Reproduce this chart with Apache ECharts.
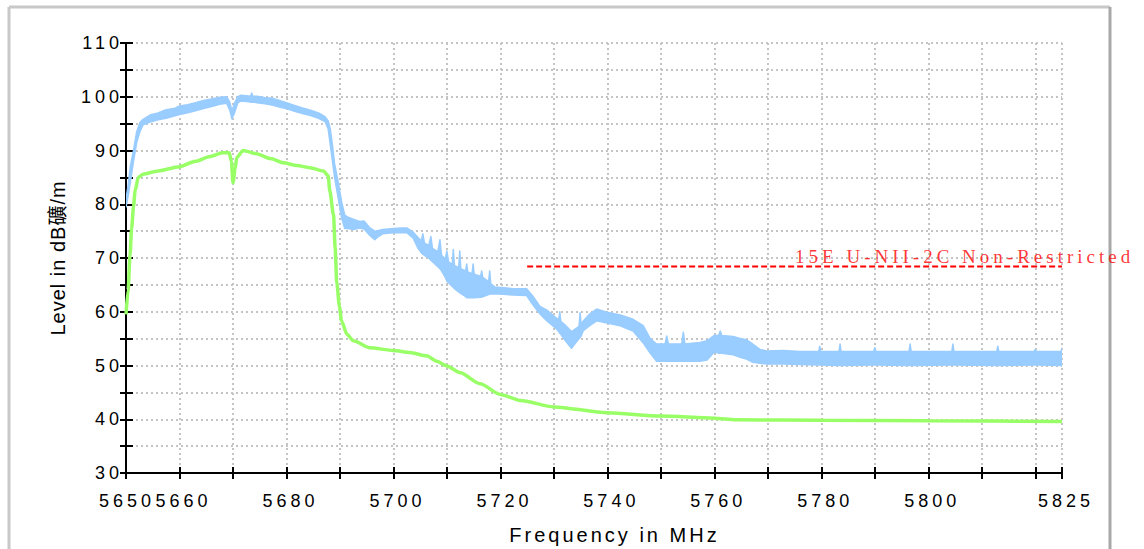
<!DOCTYPE html>
<html><head><meta charset="utf-8">
<script src="https://cdn.jsdelivr.net/npm/echarts@6/dist/echarts.min.js"></script>
<style>
html,body{margin:0;padding:0;background:#fff;}
#c{width:1144px;height:549px;}
#c text[style*="18px"]{letter-spacing:4px;}
#c text[style*="20px"]{letter-spacing:3px;}
#c text[style*="CJK"]{letter-spacing:1px;}
#c text[style*="Serif"]{letter-spacing:4px;}
</style></head>
<body><div id="c"></div>
<script>
// ---- data ----
const xTickLabels = [5650, 5660, 5680, 5700, 5720, 5740, 5760, 5780, 5800, 5825];
const yTickLabels = [30, 40, 50, 60, 70, 80, 90, 100, 110];
const xName = 'Frequency in MHz';
const yName = 'Level in dB礦/m';

// blue trace (noisy band: lower / upper envelope)
const blueFreq = [5650.0,5650.4,5650.8,5651.4,5652.0,5652.6,5653.2,5654.5,5656.0,5657.5,5659.0,5660.0,5661.5,5663.0,5664.5,5666.0,5667.5,5668.8,5669.4,5669.8,5670.3,5670.9,5671.5,5672.5,5673.3,5673.5,5673.7,5674.5,5676.0,5677.5,5679.0,5680.0,5681.5,5683.0,5684.5,5686.0,5687.2,5687.8,5688.2,5688.6,5689.0,5689.7,5690.3,5690.9,5691.5,5692.5,5693.7,5694.5,5695.6,5696.5,5697.2,5698.0,5700.0,5701.5,5702.5,5703.7,5704.6,5705.2,5705.5,5705.8,5706.6,5707.0,5707.3,5708.3,5708.7,5709.0,5709.7,5710.0,5710.3,5711.0,5711.2,5711.4,5712.2,5712.4,5712.6,5713.5,5713.7,5713.9,5714.7,5714.9,5715.1,5716.3,5716.5,5716.7,5717.8,5718.0,5718.2,5719.0,5720.0,5722.4,5724.9,5726.0,5727.4,5728.7,5730.5,5730.9,5731.1,5731.3,5732.0,5733.3,5734.3,5734.7,5734.9,5735.1,5735.5,5736.7,5738.0,5739.9,5742.4,5744.8,5746.7,5748.0,5749.2,5750.8,5751.1,5751.4,5753.9,5754.2,5754.5,5757.3,5758.6,5760.0,5760.8,5761.1,5761.4,5763.5,5765.0,5766.0,5767.2,5768.5,5769.8,5772.9,5776.0,5779.5,5779.7,5779.9,5783.3,5783.5,5783.7,5789.8,5790.0,5790.2,5796.4,5796.6,5796.8,5804.4,5804.6,5804.8,5812.8,5813.0,5813.2,5819.8,5820.0,5820.2,5824.8,5825.0];
const blueLow = [79.5,81.5,84.0,88.0,91.5,93.5,94.8,95.3,95.7,96.0,96.4,96.7,97.0,97.4,97.8,98.2,98.6,98.8,97.5,95.9,97.0,98.9,99.2,99.1,99.0,99.0,99.0,98.9,98.7,98.4,98.0,97.8,97.3,96.9,96.5,96.0,95.4,94.0,91.0,88.0,85.0,81.0,77.5,75.5,75.5,75.3,75.6,75.4,74.2,73.4,74.0,74.5,74.7,74.7,74.7,73.7,71.8,71.0,70.7,70.5,70.0,69.6,69.3,68.4,68.0,67.6,66.4,65.7,65.4,64.7,64.5,64.3,63.7,63.5,63.4,62.8,62.6,62.6,62.6,62.6,62.6,62.7,62.7,62.8,63.2,63.3,63.3,63.3,63.3,63.1,63.0,61.4,59.6,58.3,56.8,56.3,56.0,55.8,54.8,53.2,54.5,55.0,55.2,55.5,56.5,57.4,58.3,57.9,57.4,56.4,54.2,52.3,50.8,50.8,50.8,50.8,50.8,50.8,50.8,50.8,51.0,52.5,52.3,52.3,52.3,52.0,51.5,51.2,50.6,50.4,50.3,50.3,50.2,50.1,50.1,50.1,50.0,50.0,50.0,50.1,50.1,50.1,50.0,50.0,50.0,50.1,50.1,50.1,50.0,50.0,50.0,50.1,50.1,50.1,50.0,50.0];
const blueHigh = [81.0,83.5,87.0,90.0,93.5,95.2,95.8,96.6,97.0,97.6,97.8,98.3,98.5,98.9,99.3,99.6,99.9,100.0,99.0,97.4,98.8,100.0,100.3,100.2,100.1,100.7,100.1,100.1,99.8,99.7,99.2,98.9,98.4,97.9,97.5,97.0,96.3,95.5,94.0,91.0,87.5,84.0,80.5,78.0,77.6,77.2,76.8,76.9,75.6,75.0,75.1,75.3,75.5,75.6,75.6,74.8,73.8,73.2,74.5,72.8,72.3,74.0,71.8,71.2,73.4,70.5,69.8,71.3,69.3,68.8,71.6,68.6,68.2,71.3,68.0,67.6,68.9,67.4,67.1,68.9,67.0,66.6,67.6,66.4,65.6,67.6,65.2,64.6,64.5,64.3,64.3,63.0,61.0,60.3,58.8,58.5,60.0,58.2,57.6,56.3,57.0,57.3,59.8,57.6,58.3,59.6,60.5,59.9,59.4,58.6,57.4,55.0,54.0,54.0,55.5,54.0,54.0,56.2,54.0,54.3,54.6,55.6,55.6,56.4,55.6,55.4,55.0,54.8,54.0,53.0,52.7,52.8,52.6,52.6,53.6,52.6,52.6,54.0,52.6,52.6,53.3,52.6,52.6,54.0,52.6,52.6,54.0,52.6,52.6,53.6,52.6,52.6,53.0,52.6,52.6,53.2];

// green trace
const greenFreq = [5650.0,5650.4,5650.75,5651.05,5651.4,5651.7,5652.3,5653.2,5656.0,5660.0,5663.0,5665.7,5668.0,5669.3,5669.7,5670.0,5670.4,5670.7,5671.9,5674.4,5677.0,5679.4,5682.0,5684.4,5686.9,5687.8,5688.1,5688.8,5689.1,5689.4,5689.9,5690.3,5691.3,5692.5,5695.6,5700.0,5703.1,5706.2,5708.1,5710.0,5712.4,5716.2,5720.0,5723.7,5730.0,5740.0,5750.0,5760.0,5764.0,5780.0,5800.0,5825.0];
const greenLevel = [59.5,64.0,70.5,75.5,79.5,82.5,85.0,85.6,86.2,87.0,88.0,88.9,89.6,89.6,88.0,84.0,86.5,88.7,90.0,89.4,88.5,87.7,87.2,86.8,86.2,85.3,82.5,78.0,72.0,65.5,61.0,58.3,55.8,54.6,53.3,52.8,52.4,51.8,50.8,49.9,48.7,46.6,44.6,43.5,42.3,41.2,40.6,40.2,39.9,39.8,39.7,39.6];

// limit line
const limitText = '15E U-NII-2C Non-Restricted';
const limitFreq = [5725, 5825];
const limitLevel = 68.4;
const limitLabelFreq = 5775;

// ---- chart ----
const BLUE = '#99ccff', GREEN = '#99ff66', RED = '#ff0000';
const FONT = 'Liberation Sans';
const chart = echarts.init(document.getElementById('c'), null, {renderer: 'svg'});
const gridLine = {show: true, lineStyle: {color: '#c4c4c4', width: 2, type: [2, 3]}};
const axisLineStyle = {color: '#000', width: 2};

chart.setOption({
  animation: false,
  backgroundColor: '#fff',
  textStyle: {fontFamily: FONT},
  graphic: [
    {type: 'line', shape: {x1: 9, y1: 7, x2: 1110, y2: 7}, style: {stroke: '#c8c8c8', lineWidth: 3}, z: -10},
    {type: 'line', shape: {x1: 9, y1: 7, x2: 9, y2: 560}, style: {stroke: '#c8c8c8', lineWidth: 3}, z: -10},
    {type: 'line', shape: {x1: 1110, y1: 7, x2: 1110, y2: 560}, style: {stroke: '#a8a8a8', lineWidth: 3}, z: -10}
  ],
  grid: {left: 126, right: 82, top: 43, bottom: 76, containLabel: false, outerBoundsMode: 'none'},
  xAxis: [{
    type: 'value', min: 5650, max: 5825, interval: 10, position: 'bottom',
    axisLine: {show: true, onZero: false, lineStyle: axisLineStyle},
    axisTick: {show: true, inside: true, length: 6, lineStyle: axisLineStyle},
    axisLabel: {show: true, margin: 19, fontSize: 18, color: '#000', fontFamily: FONT,
      padding: [0, 0, 0, 8], showMinLabel: true, showMaxLabel: true,
      formatter: v => !xTickLabels.includes(v) ? '' : (v === xTickLabels[0] ? '{m|' + v + '}' : String(v)),
      rich: {m: {fontSize: 18, fontFamily: FONT, color: '#000', padding: [0, 6, 0, 0]}}},
    splitLine: gridLine,
    name: xName, nameLocation: 'middle', nameGap: 52,
    nameTextStyle: {fontSize: 20, color: '#000', fontFamily: FONT, padding: [0, 0, 0, 41]}
  }, {
    type: 'value', min: 5650, max: 5825, interval: 10, position: 'bottom',
    axisLine: {show: false}, axisTick: {show: true, inside: false, length: 6, lineStyle: axisLineStyle},
    axisLabel: {show: false}, splitLine: {show: false}
  }],
  yAxis: [{
    type: 'value', min: 30, max: 110, interval: 5, position: 'left',
    axisLine: {show: true, onZero: false, lineStyle: axisLineStyle},
    axisTick: {show: true, inside: true, length: 7, lineStyle: axisLineStyle},
    axisLabel: {show: true, margin: 3, fontSize: 18, color: '#000', fontFamily: FONT,
      showMinLabel: true, showMaxLabel: true,
      formatter: v => yTickLabels.includes(v) ? String(v) : ''},
    splitLine: gridLine,
    name: yName, nameLocation: 'middle', nameGap: 58,
    nameTextStyle: {fontSize: 20, color: '#000', fontFamily: 'Liberation Sans, Noto Sans CJK SC'}
  }, {
    type: 'value', min: 30, max: 110, interval: 5, position: 'left',
    axisLine: {show: false}, axisTick: {show: true, inside: false, length: 6, lineStyle: axisLineStyle},
    axisLabel: {show: false}, splitLine: {show: false}
  }],
  series: [{
    type: 'custom', name: 'blue', xAxisIndex: 0, yAxisIndex: 0, clip: true, silent: true, z: 2,
    data: blueFreq.map((f, i) => [f, blueLow[i], blueHigh[i]]),
    encode: {x: 0, y: [1, 2]},
    renderItem: (params, api) => {
      if (params.dataIndex !== 0) return null;
      const pts = [];
      for (let i = 0; i < blueFreq.length; i++) pts.push(api.coord([blueFreq[i], blueHigh[i]]));
      for (let i = blueFreq.length - 1; i >= 0; i--) pts.push(api.coord([blueFreq[i], blueLow[i]]));
      return {type: 'polygon', shape: {points: pts}, style: {fill: BLUE, stroke: BLUE, lineWidth: 1.5, lineJoin: 'round'}};
    }
  }, {
    type: 'line', name: 'green', z: 3, symbol: 'none', silent: true,
    smooth: 0.25, smoothMonotone: 'x',
    data: greenFreq.map((f, i) => [f, greenLevel[i]]),
    lineStyle: {color: GREEN, width: 3.5}
  }, {
    type: 'line', name: 'limit', z: 4, symbol: 'none', silent: true,
    data: limitFreq.map(f => [f, limitLevel]),
    lineStyle: {color: RED, width: 2, type: [6, 3]}
  }, {
    type: 'scatter', name: 'limitLabel', z: 5, silent: true, symbolSize: 1,
    itemStyle: {color: 'rgba(0,0,0,0)'},
    data: [[limitLabelFreq, limitLevel]],
    label: {show: true, position: 'right', distance: 0, offset: [0, -10],
      formatter: () => limitText, color: RED, fontSize: 19, fontFamily: 'Liberation Serif'}
  }]
});
</script>
</body></html>
